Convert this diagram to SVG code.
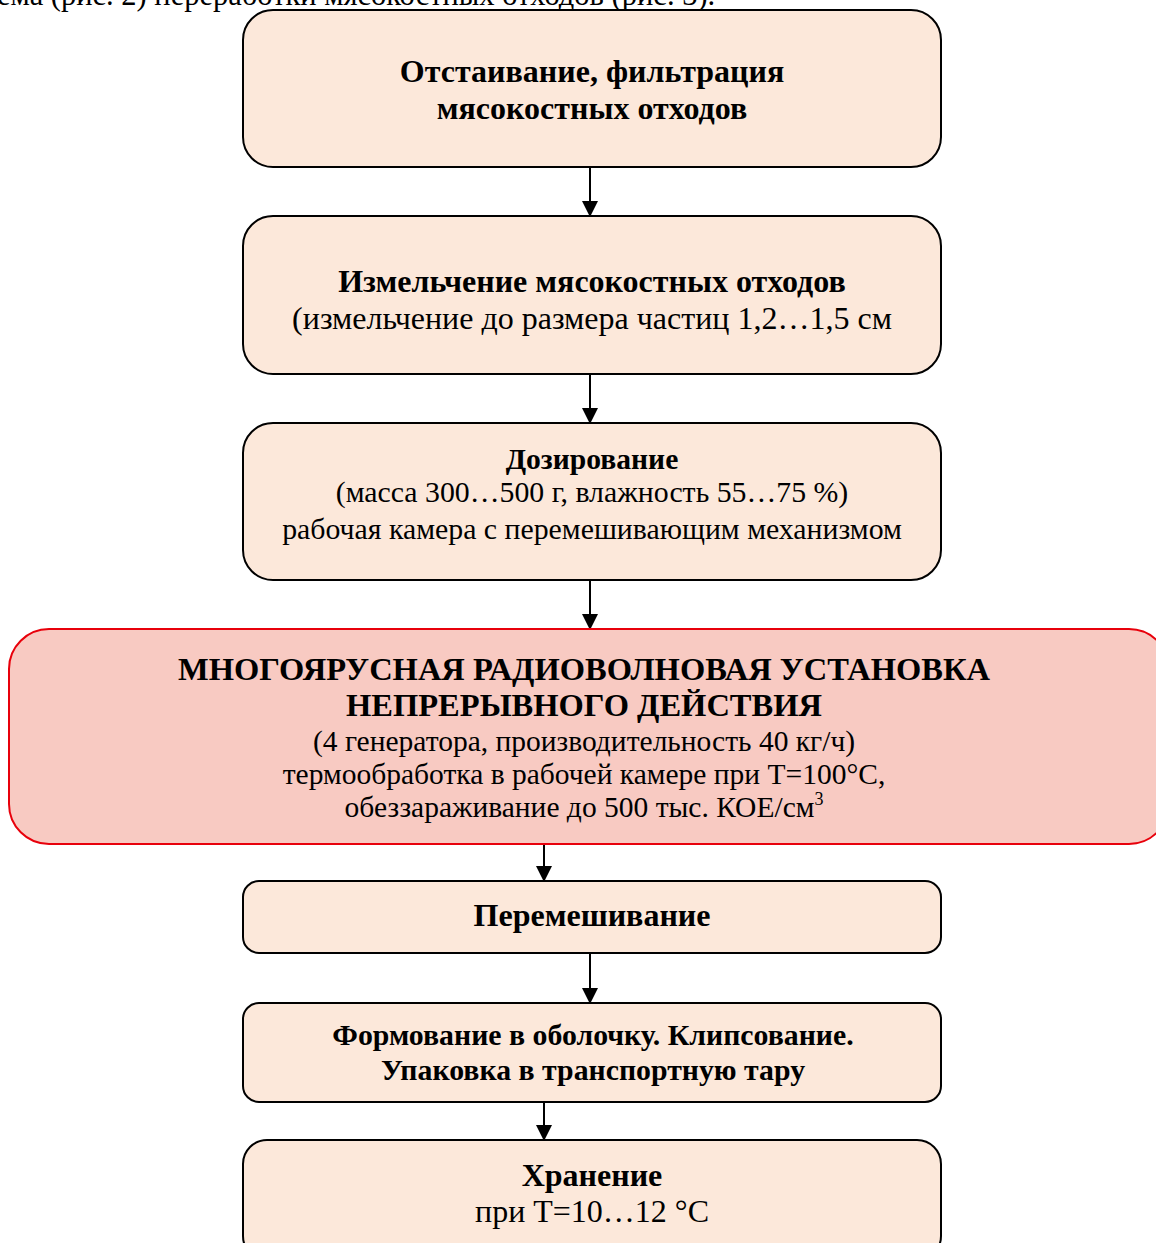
<svg xmlns="http://www.w3.org/2000/svg" width="1156" height="1243" viewBox="0 0 1156 1243">
<defs>
<style>
.box{fill:#fce8da;stroke:#000;stroke-width:2}
.red{fill:#f8cac2;stroke:#e8000b;stroke-width:2}
text{font-family:"Liberation Serif","Times New Roman",serif;fill:#000;text-anchor:middle}
.b{font-weight:bold;font-size:32px}
.n{font-size:32px}
.b3{font-weight:bold;font-size:29.6px}
.n3{font-size:29.8px}
.bt{font-weight:bold;font-size:32.5px}
.nt{font-size:29.5px}
.b6{font-weight:bold;font-size:29.8px}
.c{stroke:#000;stroke-width:2;fill:none;marker-end:url(#ah)}
</style>
<marker id="ah" markerWidth="16" markerHeight="16" viewBox="0 0 16 16" refX="15" refY="8" orient="auto" markerUnits="userSpaceOnUse">
<path d="M0,0 L16,8 L0,16 Z" fill="#000"/>
</marker>
</defs>
<rect width="1156" height="1243" fill="#fff"/>
<text x="-3" y="5" style="text-anchor:start;font-size:30.5px">ема (рис. 2) переработки мясокостных отходов (рис. 3).</text>
<g id="connectors">
<line class="c" x1="590" y1="167" x2="590" y2="216"/>
<line class="c" x1="590" y1="374" x2="590" y2="423"/>
<line class="c" x1="590" y1="580" x2="590" y2="629"/>
<line class="c" x1="544" y1="844" x2="544" y2="881"/>
<line class="c" x1="590" y1="953" x2="590" y2="1003"/>
<line class="c" x1="544" y1="1102" x2="544" y2="1140"/>
</g>
<g id="n1">
<rect class="box" x="243" y="10" width="698" height="157" rx="30"/>
<text class="b" x="592" y="82">Отстаивание, фильтрация</text>
<text class="b" x="592" y="119">мясокостных отходов</text>
</g>
<g id="n2">
<rect class="box" x="243" y="216" width="698" height="158" rx="30"/>
<text class="b" x="592" y="292">Измельчение мясокостных отходов</text>
<text class="n" x="592" y="329">(измельчение до размера частиц 1,2…1,5 см</text>
</g>
<g id="n3">
<rect class="box" x="243" y="423" width="698" height="157" rx="30"/>
<text class="b3" x="592" y="469">Дозирование</text>
<text class="n3" x="592" y="502">(масса 300…500 г, влажность 55…75 %)</text>
<text class="n3" x="592" y="539">рабочая камера с перемешивающим механизмом</text>
</g>
<g id="n4">
<rect class="red" x="9" y="629" width="1160" height="215" rx="40"/>
<text class="bt" x="584" y="680">МНОГОЯРУСНАЯ РАДИОВОЛНОВАЯ УСТАНОВКА</text>
<text class="bt" x="584" y="716">НЕПРЕРЫВНОГО ДЕЙСТВИЯ</text>
<text class="nt" x="584" y="751">(4 генератора, производительность 40 кг/ч)</text>
<text class="nt" x="584" y="784">термообработка в рабочей камере при Т=100°С,</text>
<text class="nt" x="584" y="817">обеззараживание до 500 тыс. КОЕ/см<tspan font-size="18" dy="-12">3</tspan></text>
</g>
<g id="n5">
<rect class="box" x="243" y="881" width="698" height="72" rx="16"/>
<text class="b" x="592" y="926">Перемешивание</text>
</g>
<g id="n6">
<rect class="box" x="243" y="1003" width="698" height="99" rx="16"/>
<text class="b6" x="593" y="1045">Формование в оболочку. Клипсование.</text>
<text class="b6" x="593" y="1080">Упаковка в транспортную тару</text>
</g>
<g id="n7">
<rect class="box" x="243" y="1140" width="698" height="120" rx="24"/>
<text class="b" x="592" y="1186">Хранение</text>
<text class="n" x="592" y="1222">при Т=10…12 °С</text>
</g>
</svg>
